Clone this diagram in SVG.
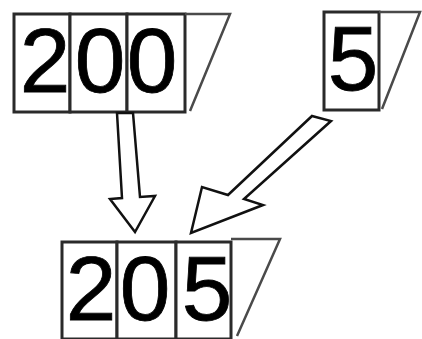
<svg xmlns="http://www.w3.org/2000/svg" width="422" height="339" viewBox="0 0 422 339">
<style>
.cell{fill:#fff;stroke:#2a2a2a;stroke-width:3}
.slash{fill:none;stroke:#4a4a4a;stroke-width:2.5;stroke-linejoin:miter}
.dig{font-family:"Liberation Sans",Arial,sans-serif;font-size:91px;fill:#000;text-anchor:middle;stroke:#000;stroke-width:0.8}
.arrow{fill:#fff;stroke:#111;stroke-width:2.5;stroke-linejoin:miter}
</style>
<rect width="422" height="339" fill="#fff"/>
<g id="num200">
<rect class="cell" x="14" y="14" width="56" height="98"/>
<rect class="cell" x="70" y="14" width="57" height="98"/>
<rect class="cell" x="127" y="14" width="58" height="98"/>
<polyline class="slash" points="185,14 230,14 190,111"/>
<text class="dig" x="45" y="92">2</text>
<text class="dig" x="100" y="92">0</text>
<text class="dig" x="152" y="92">0</text>
</g>
<g id="num5">
<rect class="cell" x="324" y="12" width="55" height="98"/>
<polyline class="slash" points="379,12 420,12 382,109"/>
<text class="dig" x="353" y="90">5</text>
</g>
<g id="num205">
<rect class="cell" x="62" y="242" width="55" height="97"/>
<rect class="cell" x="117" y="242" width="59" height="97"/>
<rect class="cell" x="176" y="242" width="55" height="97"/>
<polyline class="slash" points="231,239 280,239 237,336"/>
<text class="dig" x="91" y="320">2</text>
<text class="dig" x="145" y="320">0</text>
<text class="dig" x="207" y="320">5</text>
</g>
<g id="connectors">
<polygon class="arrow" points="117,113 133,113 140,197 155,196 135,232 110,199 122,198"/>
<polygon class="arrow" points="312,116 331,121 244,199 263,205 191,233 202,187 228,195"/>
</g>
</svg>
